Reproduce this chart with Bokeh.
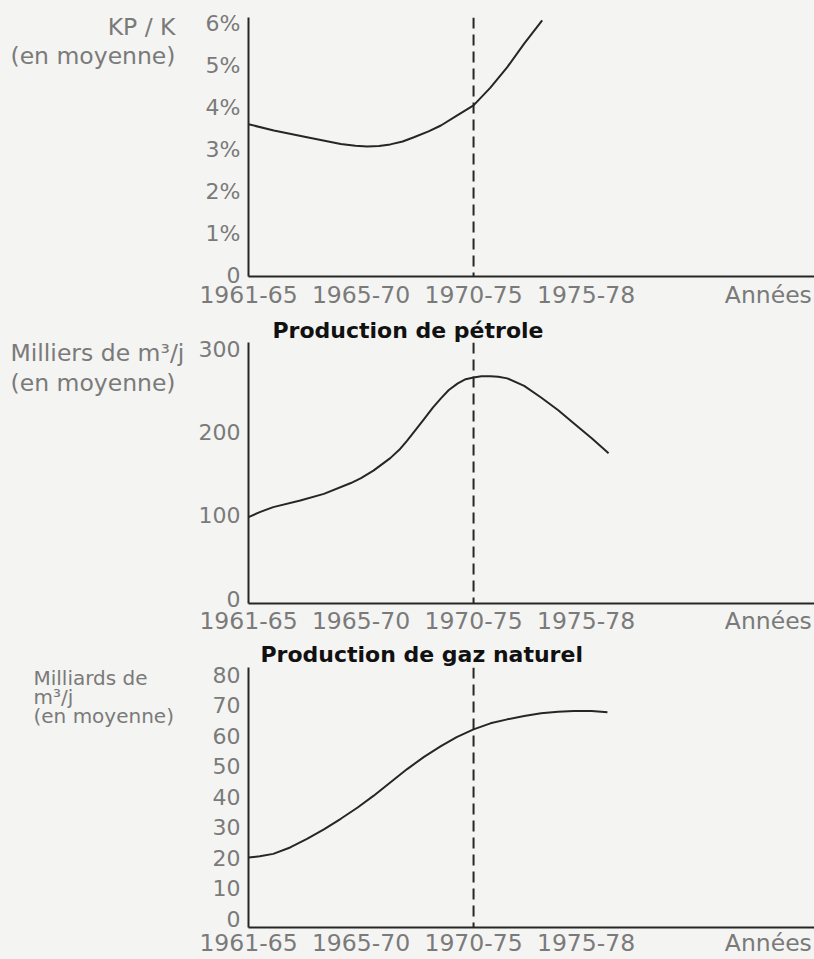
from bokeh.plotting import figure
from bokeh.layouts import column, row
from bokeh.models import Span, Label, FixedTicker, Range1d
from bokeh.embed import file_html
from bokeh.resources import INLINE

# ---------------- data ----------------
periods = ["1961-65", "1965-70", "1970-75", "1975-78"]
period_pos = [0, 1, 2, 3]
axis_end_label = "Années"
axis_end_pos = 4.62
reference_pos = 2  # 1970-75 (dashed line)

# KP/K (en moyenne, %)
kpk_x = [0, 0.225, 0.52, 0.82, 0.95, 1.055, 1.16, 1.26, 1.37, 1.47, 1.6, 1.71, 1.855, 2.0, 2.15, 2.30, 2.45, 2.61]
kpk_y = [3.60, 3.45, 3.29, 3.13, 3.09, 3.07, 3.08, 3.12, 3.19, 3.29, 3.43, 3.57, 3.81, 4.05, 4.47, 4.96, 5.52, 6.07]
kpk_ticks = [0, 1, 2, 3, 4, 5, 6]
kpk_tick_labels = ["0", "1%", "2%", "3%", "4%", "5%", "6%"]

# Production de pétrole (milliers de m3/j)
oil_x = [0, 0.1, 0.22, 0.46, 0.67, 0.91, 1.0, 1.11, 1.26, 1.34, 1.41, 1.48, 1.56, 1.64, 1.71, 1.78,
         1.86, 1.93, 2.0, 2.07, 2.15, 2.22, 2.3, 2.45, 2.6, 2.75, 2.89, 3.05, 3.2]
oil_y = [98, 104, 110, 118, 126, 139, 145, 154, 169, 179, 190, 202, 216, 230, 241, 251,
         259, 264, 266, 267.5, 267.5, 267, 265, 256, 242, 227, 211, 193, 175]
oil_ticks = [0, 100, 200, 300]

# Production de gaz naturel (milliards de m3/j)
gas_x = [0, 0.1, 0.22, 0.37, 0.52, 0.67, 0.82, 0.97, 1.11, 1.26, 1.41, 1.56, 1.71, 1.85, 2.0,
         2.15, 2.3, 2.45, 2.6, 2.75, 2.89, 3.05, 3.19]
gas_y = [20, 20.4, 21.2, 23.3, 26.1, 29.2, 32.7, 36.4, 40.2, 44.6, 49, 53, 56.5, 59.5, 62,
         64, 65.3, 66.4, 67.3, 67.8, 68, 68, 67.6]
gas_ticks = [0, 10, 20, 30, 40, 50, 60, 70, 80]

# ---------------- style ----------------
BG = "#f4f4f2"
INK = "#262626"
GREY = "#7a7a7a"
FONT = "DejaVu Sans"
SIDE_W = 194
MAIN_W = 620


def side_panel(main, height, top, bottom, lines, size="23.5px", align="left"):
    """Left column with the unit texts; shares the y range (and frame) of its panel."""
    s = figure(width=SIDE_W, height=height, x_range=Range1d(0, SIDE_W),
               y_range=main.y_range, output_backend="svg", toolbar_location=None,
               x_axis_location=None, y_axis_location=None, min_border_left=0,
               min_border_right=0, min_border_top=top, min_border_bottom=bottom)
    s.grid.visible = False
    s.outline_line_color = None
    s.background_fill_color = BG
    s.border_fill_color = BG
    for x, y, text in lines:
        s.add_layout(Label(x=x, y=y, text=text, text_font=FONT, text_font_size=size,
                           text_color=GREY, text_align=align, text_baseline="alphabetic"))
    return s


def panel(height, top, bottom, y_start, y_end, yticks, ylabels,
          x_standoff=7, title=None, title_offset=24, title_standoff=0):
    p = figure(width=MAIN_W, height=height, x_range=Range1d(0, 5.03),
               y_range=Range1d(y_start, y_end), output_backend="svg",
               toolbar_location=None, min_border_left=54, min_border_right=0,
               min_border_top=top, min_border_bottom=bottom)
    p.grid.visible = False
    p.outline_line_color = None
    p.background_fill_color = BG
    p.border_fill_color = BG
    for ax in (p.xaxis, p.yaxis):
        ax.axis_line_color = INK
        ax.axis_line_width = 2
        ax.major_tick_line_color = None
        ax.minor_tick_line_color = None
        ax.major_tick_out = 0
        ax.major_tick_in = 0
        ax.major_label_text_font = FONT
        ax.major_label_text_color = GREY
    p.xaxis.major_label_text_font_size = "23.5px"
    p.yaxis.major_label_text_font_size = "22px"
    p.xaxis.ticker = FixedTicker(ticks=period_pos + [axis_end_pos])
    over = {pos: lab for pos, lab in zip(period_pos, periods)}
    over[axis_end_pos] = axis_end_label
    p.xaxis.major_label_overrides = over
    p.xaxis.major_label_standoff = x_standoff
    p.yaxis.ticker = FixedTicker(ticks=yticks)
    p.yaxis.major_label_overrides = {t: l for t, l in zip(yticks, ylabels)}
    p.yaxis.major_label_standoff = 8
    if title:
        p.title.text = title
        p.title.align = "left"
        p.title.offset = title_offset
        p.title.text_font = FONT
        p.title.text_font_style = "bold"
        p.title.text_font_size = "22px"
        p.title.text_color = "#111111"
        p.title.standoff = title_standoff
    p.add_layout(Span(location=reference_pos, dimension="height", line_color=INK,
                      line_width=2, line_dash="11 6"))
    return p


H1, H2, H3 = 311, 327, 321

# Panel 1 : KP/K
p1 = panel(H1, 17, 35, -0.024, 6.14, kpk_ticks, kpk_tick_labels, x_standoff=4)
p1.line(kpk_x, kpk_y, line_width=2, line_color=INK, line_join="round")
s1 = side_panel(p1, H1, 17, 35, [(175, 5.924, "KP / K"), (175, 5.235, "(en moyenne)")],
                align="right")

# Panel 2 : pétrole
p2 = panel(H2, 31, 35, -6, 308.2, oil_ticks, [str(t) for t in oil_ticks],
           x_standoff=3, title="Production de pétrole", title_offset=24, title_standoff=0)
p2.line(oil_x, oil_y, line_width=2, line_color=INK, line_join="round")
s2 = side_panel(p2, H2, 31, 35, [(10, 295.5, "Milliers de m³/j"), (10, 260.0, "(en moyenne)")])

# Panel 3 : gaz naturel
p3 = panel(H3, 28, 32, -2.94, 82.3, gas_ticks, [str(t) for t in gas_ticks],
           x_standoff=1, title="Production de gaz naturel", title_offset=12, title_standoff=2)
p3.line(gas_x, gas_y, line_width=2, line_color=INK, line_join="round")
s3 = side_panel(p3, H3, 28, 32, [(33, 79.0, "Milliards de"), (33, 72.5, "m³/j"),
                                 (33, 66.3, "(en moyenne)")], size="20px")

layout = column(row(s1, p1, spacing=0), row(s2, p2, spacing=0), row(s3, p3, spacing=0),
                spacing=0)
layout.background = BG

open("out.html", "w").write(file_html(layout, INLINE))
